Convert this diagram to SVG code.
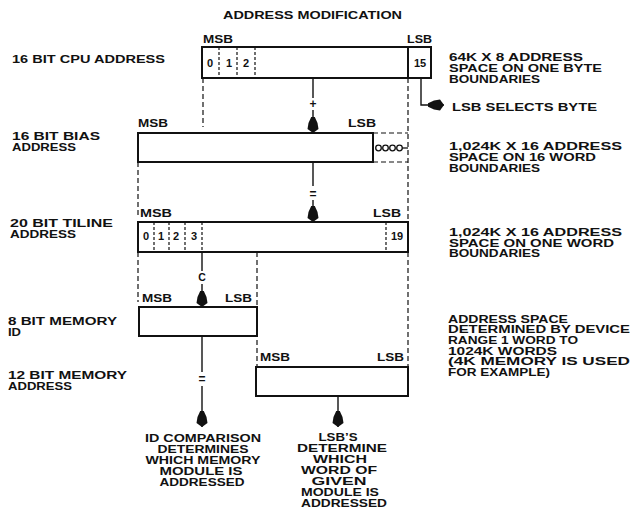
<svg xmlns="http://www.w3.org/2000/svg" width="632" height="508" viewBox="0 0 632 508">
<style>
text{font-family:"Liberation Sans",Arial,sans-serif;font-weight:bold;font-size:10.5px;fill:#111}
.lbl{font-size:10px}
.dig{font-size:11px}
.box{fill:#fff;stroke:#111;stroke-width:2}
.sol{fill:none;stroke:#111;stroke-width:1.4}
.dash{fill:none;stroke:#111;stroke-width:1.2;stroke-dasharray:5,3}
.fine{stroke-dasharray:3,2}
.mid{text-anchor:middle}
</style>
<defs>
<marker id="ah" viewBox="-17 -7 18 14" refX="0" refY="0" markerWidth="18" markerHeight="14" markerUnits="userSpaceOnUse" orient="auto">
<path d="M0,0 L-4,-5.5 L-10,-4.5 L-16,-1.8 L-16,1.8 L-10,4.5 L-4,5.5 Z" fill="#111"/>
</marker>
</defs>
<rect width="632" height="508" fill="#fff"/>
<text x="223" y="19" textLength="179" lengthAdjust="spacingAndGlyphs">ADDRESS MODIFICATION</text>

<g id="labels-left">
<text x="12" y="63" textLength="153" lengthAdjust="spacingAndGlyphs">16 BIT CPU ADDRESS</text>
<text x="12" y="140" textLength="88" lengthAdjust="spacingAndGlyphs">16 BIT BIAS</text>
<text x="12" y="151" textLength="64" lengthAdjust="spacingAndGlyphs">ADDRESS</text>
<text x="10" y="227" textLength="103" lengthAdjust="spacingAndGlyphs">20 BIT TILINE</text>
<text x="10" y="237.5" textLength="66" lengthAdjust="spacingAndGlyphs">ADDRESS</text>
<text x="8" y="325" textLength="109" lengthAdjust="spacingAndGlyphs">8 BIT MEMORY</text>
<text x="8" y="336" textLength="13" lengthAdjust="spacingAndGlyphs">ID</text>
<text x="8" y="379" textLength="119" lengthAdjust="spacingAndGlyphs">12 BIT MEMORY</text>
<text x="8" y="390" textLength="64" lengthAdjust="spacingAndGlyphs">ADDRESS</text>
</g>

<g id="labels-right">
<text x="449" y="61" textLength="134" lengthAdjust="spacingAndGlyphs">64K X 8 ADDRESS</text>
<text x="449" y="72" textLength="153" lengthAdjust="spacingAndGlyphs">SPACE ON ONE BYTE</text>
<text x="449" y="82.5" textLength="91" lengthAdjust="spacingAndGlyphs">BOUNDARIES</text>
<text x="452" y="111" textLength="145" lengthAdjust="spacingAndGlyphs">LSB SELECTS BYTE</text>
<text x="449" y="150" textLength="173" lengthAdjust="spacingAndGlyphs">1,024K X 16 ADDRESS</text>
<text x="449" y="161" textLength="147" lengthAdjust="spacingAndGlyphs">SPACE ON 16 WORD</text>
<text x="449" y="171.5" textLength="91" lengthAdjust="spacingAndGlyphs">BOUNDARIES</text>
<text x="449" y="236" textLength="173" lengthAdjust="spacingAndGlyphs">1,024K X 16 ADDRESS</text>
<text x="449" y="246.5" textLength="165" lengthAdjust="spacingAndGlyphs">SPACE ON ONE WORD</text>
<text x="449" y="257" textLength="91" lengthAdjust="spacingAndGlyphs">BOUNDARIES</text>
<text x="448" y="322.5" textLength="120" lengthAdjust="spacingAndGlyphs">ADDRESS SPACE</text>
<text x="448" y="333" textLength="182" lengthAdjust="spacingAndGlyphs">DETERMINED BY DEVICE</text>
<text x="448" y="344" textLength="130" lengthAdjust="spacingAndGlyphs">RANGE 1 WORD TO</text>
<text x="448" y="354.5" textLength="109" lengthAdjust="spacingAndGlyphs">1024K WORDS</text>
<text x="448" y="365" textLength="182" lengthAdjust="spacingAndGlyphs">(4K MEMORY IS USED</text>
<text x="448" y="375.5" textLength="102" lengthAdjust="spacingAndGlyphs">FOR EXAMPLE)</text>
</g>

<g id="connectors">
<line class="dash" x1="203" y1="78" x2="203" y2="127"/>
<line class="dash" x1="408" y1="78" x2="408" y2="222"/>
<line class="dash" x1="373" y1="133" x2="408" y2="133"/>
<line class="dash" x1="373" y1="162" x2="408" y2="162"/>
<line class="sol" x1="313" y1="78" x2="313" y2="98"/>
<text class="mid" x="313" y="108" style="font-size:12px">+</text>
<line class="sol" x1="313" y1="110" x2="313" y2="133" marker-end="url(#ah)"/>
<line class="dash" x1="138" y1="162" x2="138" y2="218"/>
<line class="sol" x1="313" y1="162" x2="313" y2="186"/>
<text class="mid" x="313" y="198" style="font-size:12px">=</text>
<line class="sol" x1="313" y1="200" x2="313" y2="222" marker-end="url(#ah)"/>
<polyline class="sol" points="421,78 421,105 430,105"/>
<line class="sol" x1="428" y1="105" x2="444" y2="105" marker-end="url(#ah)"/>
<line class="dash" x1="138" y1="252" x2="138" y2="302"/>
<line class="sol" x1="202" y1="252" x2="202" y2="271"/>
<text class="mid" x="202" y="281">C</text>
<line class="sol" x1="202" y1="284" x2="202" y2="307" marker-end="url(#ah)"/>
<line class="dash" x1="257" y1="252" x2="257" y2="367"/>
<line class="dash" x1="408" y1="252" x2="408" y2="367"/>
<line class="sol" x1="202" y1="336" x2="202" y2="372"/>
<text class="mid" x="202" y="383" style="font-size:12px">=</text>
<line class="sol" x1="202" y1="386" x2="202" y2="427" marker-end="url(#ah)"/>
<line class="sol" x1="338" y1="396" x2="338" y2="427" marker-end="url(#ah)"/>
<g fill="none" stroke="#111" stroke-width="1.3">
<circle cx="378.5" cy="148" r="2.8"/>
<circle cx="385.5" cy="148" r="2.8"/>
<circle cx="392.5" cy="148" r="2.8"/>
<circle cx="399.5" cy="148" r="2.8"/>
<line x1="402.3" y1="148" x2="408" y2="148"/>
</g>
</g>

<g id="cpu-address">
<rect class="box" x="202" y="47" width="229" height="31"/>
<line class="dash fine" x1="219" y1="47" x2="219" y2="78"/>
<line class="dash fine" x1="237" y1="47" x2="237" y2="78"/>
<line class="dash fine" x1="255" y1="47" x2="255" y2="78"/>
<line class="sol" x1="408" y1="47" x2="408" y2="78" style="stroke-width:2"/>
<text class="lbl" x="203" y="43" textLength="30" lengthAdjust="spacingAndGlyphs">MSB</text>
<text class="lbl" x="407" y="43" textLength="25" lengthAdjust="spacingAndGlyphs">LSB</text>
<text class="dig mid" x="210" y="67">0</text>
<text class="dig mid" x="229" y="67">1</text>
<text class="dig mid" x="246" y="67">2</text>
<text class="dig mid" x="420" y="67">15</text>
</g>

<g id="bias-address">
<rect class="box" x="138" y="133" width="235" height="29"/>
<text class="lbl" x="138" y="127" textLength="30" lengthAdjust="spacingAndGlyphs">MSB</text>
<text class="lbl" x="348" y="127" textLength="28" lengthAdjust="spacingAndGlyphs">LSB</text>
</g>

<g id="tiline-address">
<rect class="box" x="138" y="222" width="270" height="30"/>
<line class="dash fine" x1="154" y1="222" x2="154" y2="252"/>
<line class="dash fine" x1="169" y1="222" x2="169" y2="252"/>
<line class="dash fine" x1="185" y1="222" x2="185" y2="252"/>
<line class="dash fine" x1="202" y1="222" x2="202" y2="252"/>
<line class="dash fine" x1="386" y1="222" x2="386" y2="252"/>
<text class="lbl" x="140" y="217" textLength="32" lengthAdjust="spacingAndGlyphs">MSB</text>
<text class="lbl" x="373" y="217" textLength="28" lengthAdjust="spacingAndGlyphs">LSB</text>
<text class="dig mid" x="146" y="240">0</text>
<text class="dig mid" x="161" y="240">1</text>
<text class="dig mid" x="176" y="240">2</text>
<text class="dig mid" x="194" y="240">3</text>
<text class="dig mid" x="397" y="240">19</text>
</g>

<g id="memory-id">
<rect class="box" x="139" y="307" width="118" height="29"/>
<text class="lbl" x="142" y="301.5" textLength="30" lengthAdjust="spacingAndGlyphs">MSB</text>
<text class="lbl" x="225" y="301.5" textLength="27" lengthAdjust="spacingAndGlyphs">LSB</text>
</g>

<g id="memory-address">
<rect class="box" x="256" y="367" width="152" height="29"/>
<text class="lbl" x="260" y="361" textLength="30" lengthAdjust="spacingAndGlyphs">MSB</text>
<text class="lbl" x="377" y="361" textLength="27" lengthAdjust="spacingAndGlyphs">LSB</text>
</g>

<g id="result-id">
<text class="mid" x="203" y="442" textLength="116" lengthAdjust="spacingAndGlyphs">ID COMPARISON</text>
<text class="mid" x="203" y="453" textLength="91" lengthAdjust="spacingAndGlyphs">DETERMINES</text>
<text class="mid" x="203" y="464" textLength="115" lengthAdjust="spacingAndGlyphs">WHICH MEMORY</text>
<text class="mid" x="201" y="475" textLength="83" lengthAdjust="spacingAndGlyphs">MODULE IS</text>
<text class="mid" x="202" y="486" textLength="85" lengthAdjust="spacingAndGlyphs">ADDRESSED</text>
</g>

<g id="result-lsb">
<text class="mid" x="338" y="441" textLength="39" lengthAdjust="spacingAndGlyphs">LSB’S</text>
<text class="mid" x="342" y="452" textLength="90" lengthAdjust="spacingAndGlyphs">DETERMINE</text>
<text class="mid" x="340" y="463" textLength="54" lengthAdjust="spacingAndGlyphs">WHICH</text>
<text class="mid" x="339" y="474" textLength="76" lengthAdjust="spacingAndGlyphs">WORD OF</text>
<text class="mid" x="339" y="485" textLength="55" lengthAdjust="spacingAndGlyphs">GIVEN</text>
<text class="mid" x="340" y="496" textLength="78" lengthAdjust="spacingAndGlyphs">MODULE IS</text>
<text class="mid" x="344" y="507" textLength="86" lengthAdjust="spacingAndGlyphs">ADDRESSED</text>
</g>
</svg>
